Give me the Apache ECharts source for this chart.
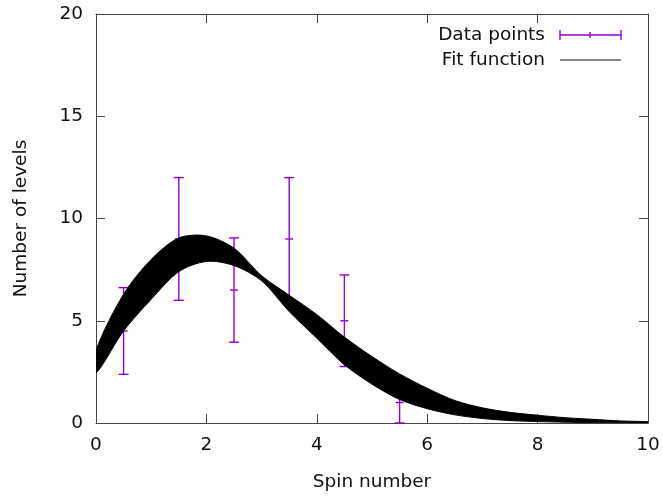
<!DOCTYPE html>
<html>
<head>
<meta charset="utf-8">
<script src="https://cdn.jsdelivr.net/npm/echarts@6/dist/echarts.min.js"></script>
<style>
  html, body { margin: 0; padding: 0; background: #fff; }
  #chart { width: 663px; height: 497px; }
</style>
</head>
<body>
<div id="chart"></div>
<script>
// fit band (upper and lower edge of the bundle of curves)
const fitX = [0, 0.5, 1, 1.5, 2, 2.5, 3, 3.5, 4, 4.5, 5, 5.5, 6, 6.5, 7, 7.5, 8, 8.5, 9, 9.5, 10];
const fitUpper = [3.55, 6.3, 8.0, 9.05, 9.15, 8.55, 7.2, 6.25, 5.3, 4.2, 3.25, 2.4, 1.7, 1.1, 0.74, 0.52, 0.38, 0.26, 0.18, 0.1, 0.06];
const fitLower = [2.45, 4.5, 6.05, 7.4, 7.9, 7.7, 6.95, 5.45, 4.15, 2.85, 1.9, 1.15, 0.7, 0.4, 0.22, 0.12, 0.07, 0.04, 0.02, 0.01, 0];

// data points with error bars
const spins = [0.5, 1.5, 2.5, 3.5, 4.5, 5.5];
const levels = [4.5, 9, 6.5, 9, 5, 1];
const errors = [2.12, 3, 2.55, 3, 2.24, 1];

const font = 'DejaVu Sans';
const fontSize = 18.5;
const violet = '#9400d3';
const axisColor = '#444';

const chart = echarts.init(document.getElementById('chart'));

function axis(pos, showLabel, max, interval) {
  return {
    type: 'value',
    position: pos,
    min: 0,
    max: max,
    interval: interval,
    axisLine: { show: true, onZero: false, lineStyle: { color: axisColor, width: 1 } },
    axisTick: { show: true, inside: true, length: 9, lineStyle: { color: axisColor } },
    axisLabel: { show: showLabel, color: '#111', fontFamily: font, fontSize: fontSize, margin: 13 },
    splitLine: { show: false }
  };
}

const xBottom = axis('bottom', true, 10, 2);
xBottom.name = 'Spin number';
xBottom.nameLocation = 'middle';
xBottom.nameGap = 50;
xBottom.nameTextStyle = { color: '#111', fontFamily: font, fontSize: fontSize };

const yLeft = axis('left', true, 20, 5);
yLeft.name = 'Number of levels';
yLeft.nameLocation = 'middle';
yLeft.nameGap = 65;
yLeft.nameTextStyle = { color: '#111', fontFamily: font, fontSize: fontSize };

function errorBar(params, api) {
  const x = api.value(0), y = api.value(1), e = api.value(2);
  const top = api.coord([x, y + e]);
  const bot = api.coord([x, y - e]);
  const mid = api.coord([x, y]);
  const w = 5;
  const style = { stroke: violet, lineWidth: 1.4 };
  return {
    type: 'group',
    children: [
      { type: 'line', shape: { x1: top[0], y1: top[1], x2: bot[0], y2: bot[1] }, style },
      { type: 'line', shape: { x1: top[0] - w, y1: top[1], x2: top[0] + w, y2: top[1] }, style },
      { type: 'line', shape: { x1: bot[0] - w, y1: bot[1], x2: bot[0] + w, y2: bot[1] }, style },
      { type: 'line', shape: { x1: mid[0] - 4, y1: mid[1], x2: mid[0] + 4, y2: mid[1] }, style }
    ]
  };
}

// the whole band as one smoothed polygon: upper edge left to right, lower edge back
function band(params, api) {
  const pts = [];
  fitX.forEach((x, i) => pts.push(api.coord([x, fitUpper[i]])));
  for (let i = fitX.length - 1; i >= 0; i--) pts.push(api.coord([fitX[i], fitLower[i]]));
  return {
    type: 'polygon',
    shape: { points: pts, smooth: 0.3 },
    style: { fill: '#000', stroke: '#000', lineWidth: 1 }
  };
}

const legendFont = fontSize + 'px "DejaVu Sans"';

const option = {
  animation: false,
  backgroundColor: '#fff',
  grid: { left: 96, right: 15, top: 14, bottom: 74 },
  xAxis: [xBottom, axis('top', false, 10, 2)],
  yAxis: [yLeft, axis('right', false, 20, 5)],
  series: [
    {
      type: 'custom',
      renderItem: errorBar,
      data: spins.map((s, i) => [s, levels[i], errors[i]]),
      z: 2
    },
    {
      type: 'custom',
      renderItem: band,
      clip: true,
      data: [[fitX[0], fitUpper[0]]],
      z: 3
    }
  ],
  graphic: [
    { type: 'text', x: 0, y: 0, style: { text: 'Data points', x: 545, y: 35, textAlign: 'right', textVerticalAlign: 'middle', font: legendFont, fill: '#111' } },
    { type: 'text', x: 0, y: 0, style: { text: 'Fit function', x: 545, y: 60, textAlign: 'right', textVerticalAlign: 'middle', font: legendFont, fill: '#111' } },
    { type: 'line', shape: { x1: 560, y1: 35, x2: 621, y2: 35 }, style: { stroke: violet, lineWidth: 1.4 } },
    { type: 'line', shape: { x1: 560, y1: 30, x2: 560, y2: 40 }, style: { stroke: violet, lineWidth: 1.4 } },
    { type: 'line', shape: { x1: 621, y1: 30, x2: 621, y2: 40 }, style: { stroke: violet, lineWidth: 1.4 } },
    { type: 'line', shape: { x1: 590, y1: 32, x2: 590, y2: 38 }, style: { stroke: violet, lineWidth: 1.4 } },
    { type: 'line', shape: { x1: 560, y1: 60, x2: 621, y2: 60 }, style: { stroke: '#111', lineWidth: 1 } }
  ]
};

chart.setOption(option);
</script>
</body>
</html>
